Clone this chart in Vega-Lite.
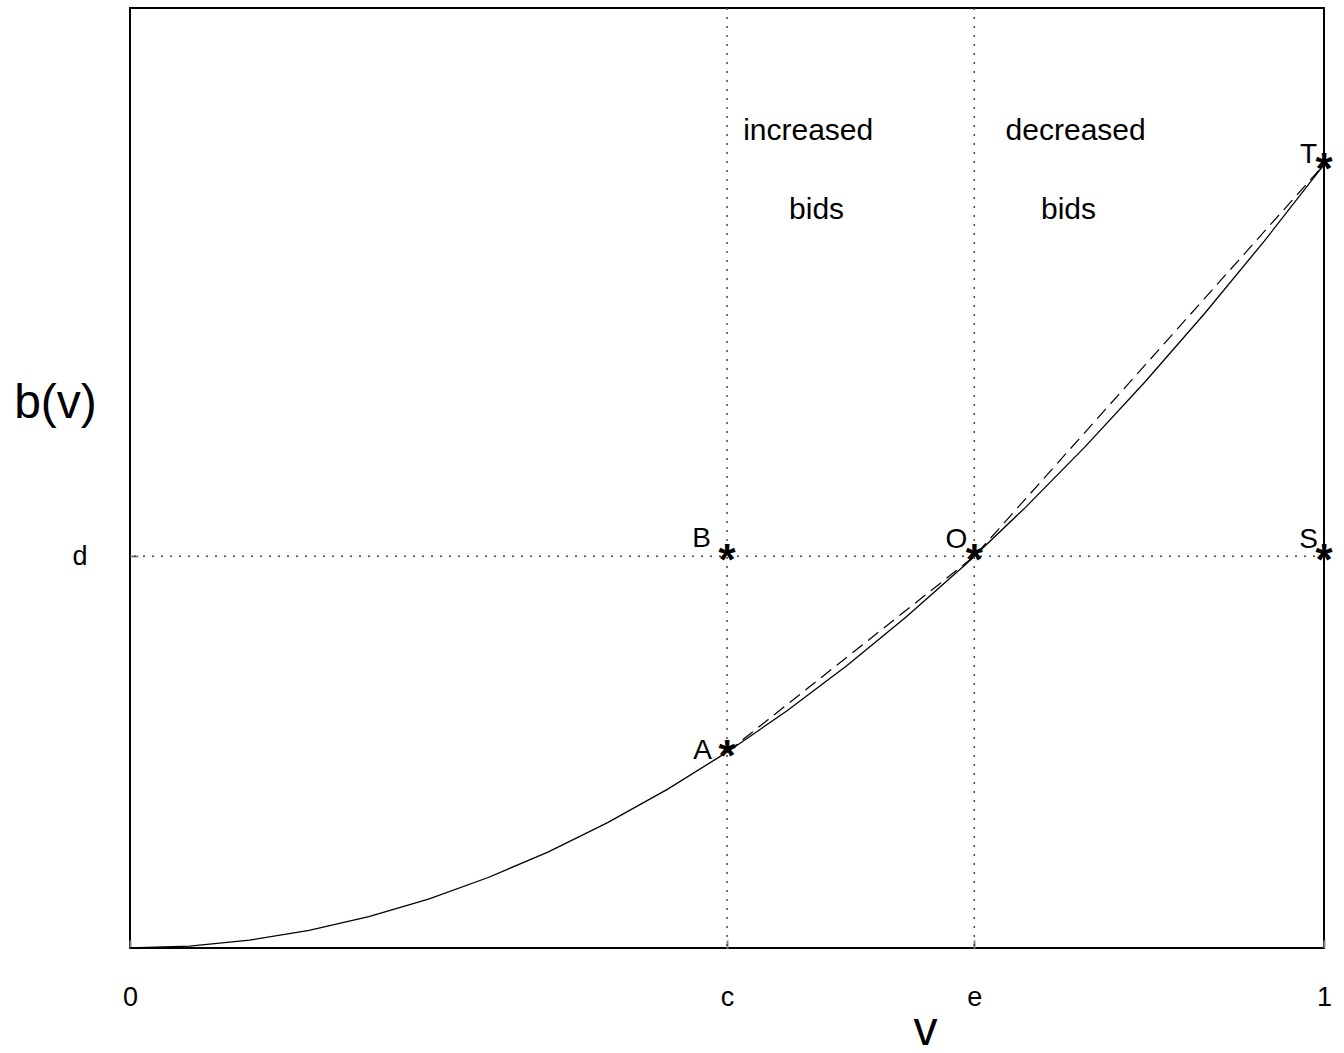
{
"$schema": "https://vega.github.io/schema/vega-lite/v6.json",
"width": 1194, "height": 940,
"autosize": {"type": "none"},
"padding": {"left": 130, "top": 8, "right": 20, "bottom": 105},
"background": "white",
"config": {"view": {"stroke": "black", "strokeWidth": 2}, "font": "Liberation Sans", "axis": {"grid": false, "domain": false}},
"datasets": {
"curve": [{"v":0,"b":0},{"v":0.05,"b":0.0025},{"v":0.1,"b":0.01},{"v":0.15,"b":0.0225},{"v":0.2,"b":0.04},{"v":0.25,"b":0.0625},{"v":0.3,"b":0.09},{"v":0.35,"b":0.1225},{"v":0.4,"b":0.16},{"v":0.45,"b":0.2025},{"v":0.5,"b":0.25},{"v":0.55,"b":0.3025},{"v":0.6,"b":0.36},{"v":0.65,"b":0.4225},{"v":0.7,"b":0.49},{"v":0.75,"b":0.5625},{"v":0.8,"b":0.64},{"v":0.85,"b":0.7225},{"v":0.9,"b":0.81},{"v":0.95,"b":0.9025},{"v":1,"b":1}],
"chord": [{"v":0.5,"b":0.25},{"v":0.7071,"b":0.5},{"v":1,"b":1}],
"points": [{"label":"A","v":0.5,"b":0.25},{"label":"B","v":0.5,"b":0.5},{"label":"O","v":0.7071,"b":0.5},{"label":"S","v":1,"b":0.5},{"label":"T","v":1,"b":1}],
"vlines": [{"v":0.5},{"v":0.7071}],
"hlines": [{"b":0.5}],
"notes": [{"text":"increased","v":0.568,"b":1.043},{"text":"bids","v":0.575,"b":0.942},{"text":"decreased","v":0.792,"b":1.043},{"text":"bids","v":0.786,"b":0.942}]
},
"layer": [
{"data": {"name": "curve"}, "mark": {"type": "line", "color": "black", "strokeWidth": 1.3},
 "encoding": {
  "x": {"field": "v", "type": "quantitative", "scale": {"domain": [0, 1], "nice": false, "zero": false},
   "axis": {"values": [0, 0.5, 0.7071, 1], "labelExpr": "datum.value == 0 ? '0' : datum.value == 0.5 ? 'c' : datum.value == 1 ? '1' : 'e'", "labelFontSize": 27, "labelColor": "black", "labelFont": "Liberation Sans", "labelFlush": false, "labelOverlap": false, "labelPadding": 44, "tickSize": -8, "tickColor": "#888", "tickWidth": 2,
    "title": "v", "titleFontSize": 48, "titleFontWeight": "normal", "titleFont": "Liberation Sans", "titleColor": "black", "titleX": 795, "titleY": 82, "titleBaseline": "middle", "titleAlign": "center"}},
  "y": {"field": "b", "type": "quantitative", "scale": {"domain": [0, 1.2], "nice": false, "zero": false},
   "axis": {"values": [0.5], "labelExpr": "'d'", "labelFontSize": 27, "labelColor": "black", "labelFont": "Liberation Sans", "labelFlush": false, "labelPadding": 51, "tickSize": -8, "tickColor": "#888", "tickWidth": 2,
    "title": "b(v)", "titleAngle": 0, "titleFontSize": 48, "titleFontWeight": "normal", "titleFont": "Liberation Sans", "titleColor": "black", "titleX": -75, "titleY": 395, "titleBaseline": "middle", "titleAlign": "center"}}
 }},
{"data": {"name": "vlines"}, "mark": {"type": "rule", "color": "#444", "strokeWidth": 1.5, "strokeDash": [2, 7]},
 "encoding": {"x": {"field": "v", "type": "quantitative"}}},
{"data": {"name": "hlines"}, "mark": {"type": "rule", "color": "#444", "strokeWidth": 1.5, "strokeDash": [2, 7]},
 "encoding": {"y": {"field": "b", "type": "quantitative"}}},
{"data": {"name": "chord"}, "mark": {"type": "line", "color": "black", "strokeWidth": 1.2, "strokeDash": [13, 7]},
 "encoding": {"x": {"field": "v", "type": "quantitative"}, "y": {"field": "b", "type": "quantitative"}}},
{"data": {"name": "points"}, "mark": {"type": "text", "text": "*", "fontSize": 44, "fontWeight": "bold", "align": "center", "baseline": "alphabetic", "dy": 19, "color": "black"},
 "encoding": {"x": {"field": "v", "type": "quantitative"}, "y": {"field": "b", "type": "quantitative"}}},
{"data": {"name": "points"}, "transform": [{"filter": "datum.label == 'A'"}], "mark": {"type": "text", "fontSize": 28, "align": "right", "baseline": "alphabetic", "dx": -15, "dy": 7, "color": "black"},
 "encoding": {"x": {"field": "v", "type": "quantitative"}, "y": {"field": "b", "type": "quantitative"}, "text": {"field": "label"}}},
{"data": {"name": "points"}, "transform": [{"filter": "datum.label == 'B'"}], "mark": {"type": "text", "fontSize": 28, "align": "right", "baseline": "alphabetic", "dx": -16, "dy": -9, "color": "black"},
 "encoding": {"x": {"field": "v", "type": "quantitative"}, "y": {"field": "b", "type": "quantitative"}, "text": {"field": "label"}}},
{"data": {"name": "points"}, "transform": [{"filter": "datum.label == 'O'"}], "mark": {"type": "text", "fontSize": 28, "align": "right", "baseline": "alphabetic", "dx": -7, "dy": -8, "color": "black"},
 "encoding": {"x": {"field": "v", "type": "quantitative"}, "y": {"field": "b", "type": "quantitative"}, "text": {"field": "label"}}},
{"data": {"name": "points"}, "transform": [{"filter": "datum.label == 'S'"}], "mark": {"type": "text", "fontSize": 28, "align": "right", "baseline": "alphabetic", "dx": -6, "dy": -8, "color": "black"},
 "encoding": {"x": {"field": "v", "type": "quantitative"}, "y": {"field": "b", "type": "quantitative"}, "text": {"field": "label"}}},
{"data": {"name": "points"}, "transform": [{"filter": "datum.label == 'T'"}], "mark": {"type": "text", "fontSize": 28, "align": "right", "baseline": "alphabetic", "dx": -7, "dy": -2, "color": "black"},
 "encoding": {"x": {"field": "v", "type": "quantitative"}, "y": {"field": "b", "type": "quantitative"}, "text": {"field": "label"}}},
{"data": {"name": "notes"}, "mark": {"type": "text", "fontSize": 30, "align": "center", "baseline": "middle", "color": "black"},
 "encoding": {"x": {"field": "v", "type": "quantitative"}, "y": {"field": "b", "type": "quantitative"}, "text": {"field": "text"}}}
]
}
